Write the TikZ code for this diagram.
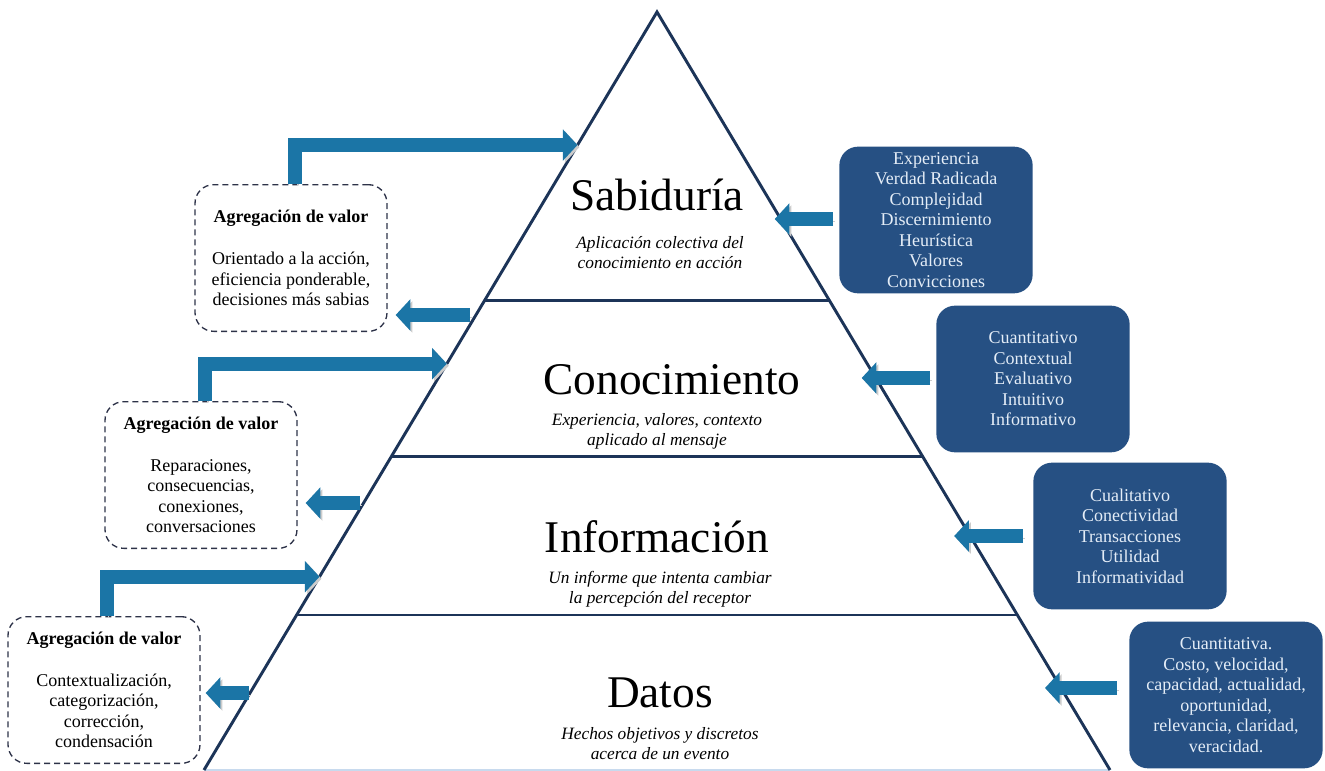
\documentclass[tikz,border=0pt]{standalone}
\usepackage{fontspec}
\setmainfont{Liberation Serif}
\usepackage{xcolor}
\usetikzlibrary{calc,arrows.meta}
\definecolor{arrowblue}{RGB}{27,117,166}
\definecolor{boxblue}{RGB}{38,80,131}
\definecolor{edgenavy}{RGB}{28,52,88}
\definecolor{dashgray}{RGB}{45,50,72}
\definecolor{paleblue}{RGB}{200,218,238}
\definecolor{boxtext}{RGB}{228,237,247}
\tikzset{
    level-title/.style = {font=\fontsize{34}{36}\selectfont},
    level-note/.style = {font=\fontsize{13}{15}\selectfont\itshape, align=center},
    band-line/.style = {draw=edgenavy, line width=2.2pt},
    value-box/.style = {draw=dashgray, dash pattern=on 4.5pt off 3pt, line width=1pt, rounded corners=14pt, minimum width=144pt, minimum height=110pt, align=center, inner sep=0pt, font=\fontsize{13.5}{15.4}\selectfont},
    trait-box/.style = {fill=boxblue, text=boxtext, rounded corners=14pt, minimum width=145pt, minimum height=110pt, align=center, inner sep=0pt, font=\fontsize{13.5}{15.4}\selectfont},
    flow-arrow/.style = {draw=arrowblue, line width=10.5pt, -{Triangle[length=11pt, width=23pt]}, preaction={draw=black!20, transform canvas={shift={(1.5pt,-1.5pt)}}}},
}
\begin{document}
\begin{tikzpicture}[x=0.75pt, y=-0.75pt]
\useasboundingbox (0,0) rectangle (1325,771);

% pyramid
\coordinate (apex) at (657,12);
\coordinate (bl) at (204,770);
\coordinate (br) at (1110,770);
\draw[paleblue, line width=2pt] (bl) -- (br);
\draw[band-line, line join=miter] (bl) -- (apex) -- (br);
\foreach \f in {0.38,0.587,0.7955}
    \draw[band-line] ($(apex)!\f!(bl)$) -- ($(apex)!\f!(br)$);

% levels
\node[level-title] (sab) at (657,195) {Sabiduría};
\node[level-note] (sabnote) at (660,253) {Aplicación colectiva del\\conocimiento en acción};
\node[level-title] (con) at (672,380) {Conocimiento};
\node[level-note] (connote) at (657,431) {Experiencia, valores, contexto\\aplicado al mensaje};
\node[level-title] (inf) at (657,537) {Información};
\node[level-note] (infnote) at (660,589) {Un informe que intenta cambiar\\la percepción del receptor};
\node[level-title] (dat) at (660,693) {Datos};
\node[level-note] (datnote) at (660,744) {Hechos objetivos y discretos\\acerca de un evento};

% value added boxes
\node[value-box] (valS) at (291,258) {{\bfseries Agregación de valor}\\[16pt]Orientado a la acción,\\eficiencia ponderable,\\decisiones más sabias};
\node[value-box] (valC) at (201,475) {{\bfseries Agregación de valor}\\[16pt]Reparaciones,\\consecuencias,\\conexiones,\\conversaciones};
\node[value-box] (valI) at (104,690) {{\bfseries Agregación de valor}\\[16pt]Contextualización,\\categorización,\\corrección,\\condensación};

% trait boxes
\node[trait-box] (traitS) at (936,220) {Experiencia\\Verdad Radicada\\Complejidad\\Discernimiento\\Heurística\\Valores\\Convicciones};
\node[trait-box] (traitC) at (1033,379) {Cuantitativo\\Contextual\\Evaluativo\\Intuitivo\\Informativo};
\node[trait-box] (traitI) at (1130,536) {Cualitativo\\Conectividad\\Transacciones\\Utilidad\\Informatividad};
\node[trait-box] (traitD) at (1226,695) {Cuantitativa.\\Costo, velocidad,\\capacidad, actualidad,\\oportunidad,\\relevancia, claridad,\\veracidad.};

% arrow ends on the pyramid sides
\coordinate (inS) at ($(apex)!0.1755!(bl)$);
\coordinate (inC) at ($(apex)!0.464!(bl)$);
\coordinate (inI) at ($(apex)!0.745!(bl)$);
\coordinate (outS) at ($(apex)!0.3997!(bl)$);
\coordinate (outC) at ($(apex)!0.6478!(bl)$);
\coordinate (outI) at ($(apex)!0.8984!(bl)$);
\coordinate (sideS) at ($(apex)!0.2731!(br)$);
\coordinate (sideC) at ($(apex)!0.4828!(br)$);
\coordinate (sideI) at ($(apex)!0.6913!(br)$);
\coordinate (sideD) at ($(apex)!0.8918!(br)$);

% value added flows
\draw[flow-arrow] ([xshift=3pt]valS.north) |- (inS);
\draw[flow-arrow] ([xshift=3pt]valC.north) |- (inC);
\draw[flow-arrow] ([xshift=2pt]valI.north) |- (inI);
\draw[flow-arrow] ($(outS)+(-6,0)$) -- ($(valS.east |- outS)+(8,0)$);
\draw[flow-arrow] ($(outC)+(-4,0)$) -- ($(valC.east |- outC)+(8,0)$);
\draw[flow-arrow] ($(outI)+(-1,0)$) -- ($(valI.east |- outI)+(5,0)$);

% traits into the pyramid
\draw[flow-arrow] ($(traitS.west |- sideS)+(-6,0)$) -- ($(sideS)+(-6,0)$);
\draw[flow-arrow] ($(traitC.west |- sideC)+(-6,0)$) -- ($(sideC)+(-14,0)$);
\draw[flow-arrow] ($(traitI.west |- sideI)+(-10,0)$) -- ($(sideI)+(-16,0)$);
\draw[flow-arrow] ($(traitD.west |- sideD)+(-12,0)$) -- ($(sideD)+(-16,0)$);
\end{tikzpicture}
\end{document}
